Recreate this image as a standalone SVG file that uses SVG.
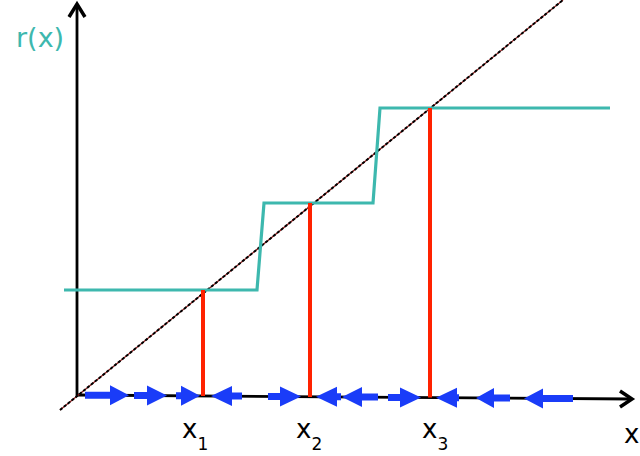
<svg xmlns="http://www.w3.org/2000/svg" width="640" height="456" viewBox="0 0 640 456">
<style>
.axis{stroke:#000;stroke-width:2.8;fill:none}
.head{stroke:#000;stroke-width:3.5;fill:none;stroke-linejoin:miter}
.stair{stroke:#3DB8AE;stroke-width:3.2;fill:none}
.red{stroke:#FF2200;stroke-width:4}
.blue{fill:#1A3CF8}
.lbl{font-family:"DejaVu Sans",sans-serif;font-size:26px;fill:#000}
.sub{font-size:17px}
</style>
<rect width="640" height="456" fill="#fff"/>
<g id="connectors">
<line class="axis" x1="77" y1="396" x2="77" y2="4"/>
<polyline class="head" points="69,17 77,4 85,17"/>
<line class="axis" x1="77" y1="395" x2="632" y2="399"/>
<polyline class="head" points="620,391 632,399 620,407"/>
<line x1="60" y1="410" x2="563" y2="0" stroke="#8B1A1A" stroke-width="1.2"/>
<line x1="60" y1="410" x2="563" y2="0" stroke="#000" stroke-width="2" stroke-dasharray="3,2"/>
</g>
<g id="staircase">
<polyline class="stair" points="64,290 257,290 264,203 373,203 380,108 610,108"/>
</g>
<g id="fixed-points">
<line class="red" x1="203" y1="290" x2="203" y2="396"/>
<line class="red" x1="310" y1="203" x2="310" y2="397"/>
<line class="red" x1="430" y1="108" x2="430" y2="397.5"/>
</g>
<g id="flow-arrows" class="blue">
<polygon points="85,391.7 110,391.7 110,385.2 129,395.2 110,405.2 110,398.7 85,398.7"/>
<polygon points="134,392 147,392 147,385.5 167,395.5 147,405.5 147,399 134,399"/>
<polygon points="176,392.3 181,392.3 181,385.8 200,395.8 181,405.8 181,399.3 176,399.3"/>
<polygon points="242,392.6 232,392.6 232,386.1 211,396.1 232,406.1 232,399.6 242,399.6"/>
<polygon points="268,393 280,393 280,386.5 301,396.5 280,406.5 280,400 268,400"/>
<polygon points="341,393.3 337,393.3 337,386.8 316,396.8 337,406.8 337,400.3 341,400.3"/>
<polygon points="378,393.5 362,393.5 362,387 342,397 362,407 362,400.5 378,400.5"/>
<polygon points="388,393.9 400,393.9 400,387.4 421,397.4 400,407.4 400,400.9 388,400.9"/>
<polygon points="459,394.2 457,394.2 457,387.7 436,397.7 457,407.7 457,401.2 459,401.2"/>
<polygon points="510,394.5 494,394.5 494,388 476,398 494,408 494,401.5 510,401.5"/>
<polygon points="573,394.9 543,394.9 543,388.4 524,398.4 543,408.4 543,401.9 573,401.9"/>
</g>
<g id="labels">
<text class="lbl" x="16" y="47" style="fill:#3DB8AE;font-size:27px">r(x)</text>
<text class="lbl" x="182" y="438">x<tspan class="sub" dy="12">1</tspan></text>
<text class="lbl" x="296" y="438">x<tspan class="sub" dy="12">2</tspan></text>
<text class="lbl" x="422" y="438">x<tspan class="sub" dy="12">3</tspan></text>
<text class="lbl" x="624" y="443">x</text>
</g>
</svg>
